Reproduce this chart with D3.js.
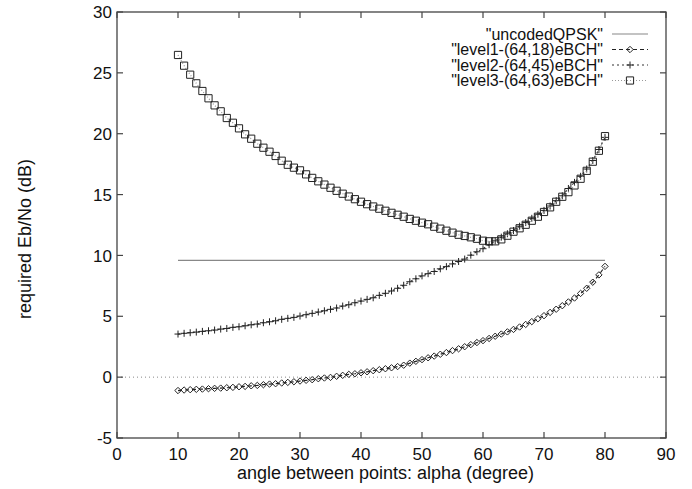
<!DOCTYPE html>
<html>
<head>
<meta charset="utf-8">
<script src="https://cdn.jsdelivr.net/npm/d3@7"></script>
<style>
  body { margin: 0; background: #fff; }
  text { font-family: "Liberation Sans", Arial, sans-serif; fill: #111; }
</style>
</head>
<body>
<div id="chart"></div>
<script>
// angle values (degree), one point per degree
const alpha = d3.range(10, 81);

const uncodedAlpha = [10, 80];
const uncodedQPSK = [9.6, 9.6];

const level1 = [
  -1.10, -1.06, -1.03, -1.00, -0.98, -0.95, -0.92, -0.90, -0.87, -0.84,
  -0.79, -0.76, -0.71, -0.68, -0.62, -0.57, -0.54, -0.48, -0.43, -0.38,
  -0.32, -0.26, -0.21, -0.13, -0.07, -0.02, 0.07, 0.15, 0.23, 0.28,
  0.36, 0.44, 0.53, 0.61, 0.69, 0.77, 0.87, 0.98, 1.15, 1.30,
  1.44, 1.59, 1.73, 1.88, 2.02, 2.18, 2.33, 2.50, 2.67, 2.84,
  3.00, 3.18, 3.36, 3.54, 3.72, 3.92, 4.12, 4.33, 4.56, 4.80,
  5.05, 5.32, 5.58, 5.87, 6.18, 6.50, 6.88, 7.30, 7.80, 8.40,
  9.10
];

const level2 = [
  3.54, 3.60, 3.65, 3.70, 3.76, 3.81, 3.87, 3.95, 4.00, 4.09,
  4.14, 4.22, 4.30, 4.36, 4.47, 4.55, 4.63, 4.75, 4.83, 4.91,
  5.02, 5.13, 5.24, 5.35, 5.45, 5.57, 5.68, 5.84, 5.95, 6.11,
  6.25, 6.39, 6.52, 6.72, 6.89, 7.08, 7.30, 7.55, 7.84, 8.08,
  8.32, 8.50, 8.68, 8.90, 9.08, 9.30, 9.50, 9.70, 10.02, 10.30,
  10.55, 10.88, 11.20, 11.50, 11.78, 12.05, 12.40, 12.70, 13.05, 13.38,
  13.70, 14.06, 14.50, 14.90, 15.50, 16.00, 16.50, 17.10, 17.80, 18.70,
  19.70
];

const level3 = [
  26.47, 25.59, 24.85, 24.14, 23.51, 22.91, 22.33, 21.84, 21.29, 20.90,
  20.44, 19.95, 19.59, 19.18, 18.85, 18.52, 18.17, 17.78, 17.45, 17.21,
  16.99, 16.66, 16.37, 16.09, 15.82, 15.56, 15.31, 15.07, 14.84, 14.62,
  14.41, 14.21, 14.02, 13.84, 13.67, 13.50, 13.34, 13.18, 13.00, 12.85,
  12.69, 12.56, 12.36, 12.20, 12.03, 11.87, 11.70, 11.60, 11.49, 11.37,
  11.21, 11.16, 11.16, 11.32, 11.62, 11.95, 12.23, 12.52, 12.85, 13.18,
  13.57, 13.95, 14.41, 14.82, 15.20, 15.75, 16.30, 16.95, 17.70, 18.60,
  19.80
];

const xTicks = [0, 10, 20, 30, 40, 50, 60, 70, 80, 90];
const yTicks = [-5, 0, 5, 10, 15, 20, 25, 30];
const seriesNames = ['"uncodedQPSK"', '"level1-(64,18)eBCH"', '"level2-(64,45)eBCH"', '"level3-(64,63)eBCH"'];

const width = 692, height = 489;
const margin = {top: 12, right: 26, bottom: 51, left: 117};
const w = width - margin.left - margin.right;
const h = height - margin.top - margin.bottom;

const svg = d3.select("#chart").append("svg")
  .attr("width", width)
  .attr("height", height);

const g = svg.append("g").attr("transform", `translate(${margin.left},${margin.top})`);

const x = d3.scaleLinear().domain([0, 90]).range([0, w]);
const y = d3.scaleLinear().domain([-5, 30]).range([h, 0]);

// zero axis (dotted)
g.append("line")
  .attr("x1", 0).attr("x2", w)
  .attr("y1", y(0)).attr("y2", y(0))
  .attr("stroke", "#888").attr("stroke-width", 1)
  .attr("stroke-dasharray", "1,3");

// ticks inside, mirrored
const tickLen = 6;
const frameColor = "#444";
yTicks.forEach(t => {
  g.append("line").attr("x1", 0).attr("x2", tickLen).attr("y1", y(t)).attr("y2", y(t))
    .attr("stroke", frameColor).attr("stroke-width", 1.2);
  g.append("line").attr("x1", w).attr("x2", w - tickLen).attr("y1", y(t)).attr("y2", y(t))
    .attr("stroke", frameColor).attr("stroke-width", 1.2);
  g.append("text").attr("x", -5).attr("y", y(t)).attr("dy", "0.36em")
    .attr("text-anchor", "end").style("font-size", "17px").text(t);
});
xTicks.forEach(t => {
  g.append("line").attr("x1", x(t)).attr("x2", x(t)).attr("y1", h).attr("y2", h - tickLen)
    .attr("stroke", frameColor).attr("stroke-width", 1.2);
  g.append("line").attr("x1", x(t)).attr("x2", x(t)).attr("y1", 0).attr("y2", tickLen)
    .attr("stroke", frameColor).attr("stroke-width", 1.2);
  g.append("text").attr("x", x(t)).attr("y", h + 22)
    .attr("text-anchor", "middle").style("font-size", "17px").text(t);
});

// frame
g.append("rect").attr("x", 0).attr("y", 0).attr("width", w).attr("height", h)
  .attr("fill", "none").attr("stroke", frameColor).attr("stroke-width", 1.3);

// axis titles
g.append("text").attr("x", w / 2 - 6).attr("y", h + 41)
  .attr("text-anchor", "middle").style("font-size", "18px")
  .text("angle between points: alpha (degree)");
g.append("text")
  .attr("transform", `translate(${25 - margin.left},${h / 2 + 14}) rotate(-90)`)
  .attr("text-anchor", "middle").attr("dy", "0.36em").style("font-size", "18px")
  .text("required Eb/No (dB)");

// marker shapes
const diamond = (cx, cy) => `M${cx},${cy - 3.2}L${cx + 3.2},${cy}L${cx},${cy + 3.2}L${cx - 3.2},${cy}Z`;
const plus = (cx, cy) => `M${cx - 3.5},${cy}H${cx + 3.5}M${cx},${cy - 3.5}V${cy + 3.5}`;
const square = (cx, cy) => `M${cx - 3.6},${cy - 3.6}h7.2v7.2h-7.2Z`;

const series = [
  {name: seriesNames[0], xs: uncodedAlpha, ys: uncodedQPSK, stroke: "#888", dash: null, marker: null},
  {name: seriesNames[1], xs: alpha, ys: level1, stroke: "#222", dash: "4,3", marker: diamond},
  {name: seriesNames[2], xs: alpha, ys: level2, stroke: "#333", dash: "2,3", marker: plus},
  {name: seriesNames[3], xs: alpha, ys: level3, stroke: "#999", dash: "1,2", marker: square}
];

const line = d3.line().x(d => x(d[0])).y(d => y(d[1]));

series.forEach((s, i) => {
  const pts = s.xs.map((a, j) => [a, s.ys[j]]);
  g.append("path").datum(pts)
    .attr("d", line)
    .attr("fill", "none")
    .attr("stroke", s.stroke)
    .attr("stroke-width", 1.2)
    .attr("stroke-dasharray", s.dash);
  if (s.marker) {
    g.append("g").selectAll("path").data(pts).enter().append("path")
      .attr("d", d => s.marker(x(d[0]), y(d[1])))
      .attr("fill", "none")
      .attr("stroke", "#222")
      .attr("stroke-width", 1);
  }

  // legend
  const ly = 34 + i * 15.5 - margin.top;
  const lx1 = 612 - margin.left, lx2 = 648 - margin.left;
  g.append("text").attr("x", 603 - margin.left).attr("y", ly).attr("dy", "0.36em")
    .attr("text-anchor", "end").style("font-size", "16px").text(s.name);
  g.append("line").attr("x1", lx1).attr("x2", lx2).attr("y1", ly).attr("y2", ly)
    .attr("stroke", s.stroke).attr("stroke-width", 1.2).attr("stroke-dasharray", s.dash);
  if (s.marker) {
    g.append("path").attr("d", s.marker((lx1 + lx2) / 2, ly))
      .attr("fill", "none").attr("stroke", "#222").attr("stroke-width", 1);
  }
});
</script>
</body>
</html>
